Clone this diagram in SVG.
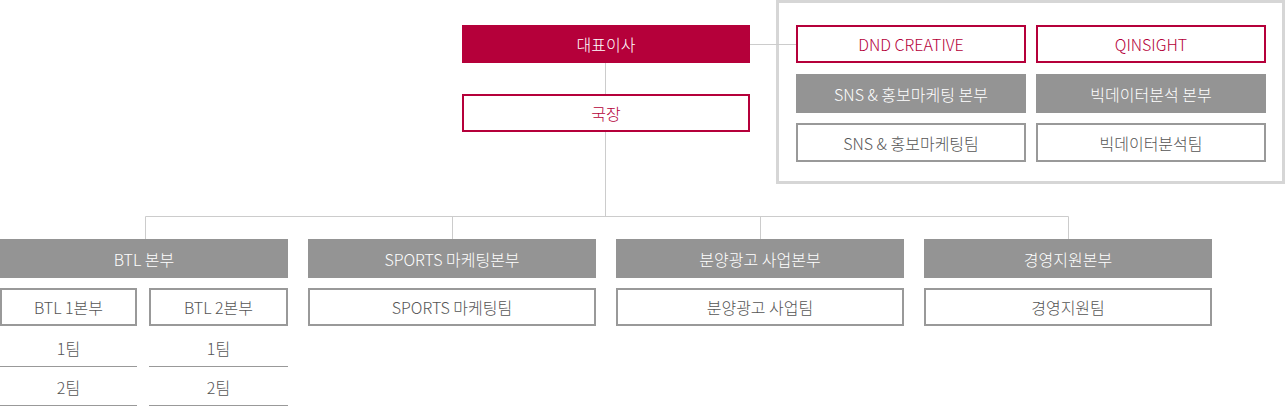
<svg xmlns="http://www.w3.org/2000/svg" width="1286" height="406" viewBox="0 0 1286 406">
<style>
text{font-family:"Noto Sans CJK KR","Noto Sans",sans-serif;font-size:16px;font-weight:300;text-anchor:middle;dominant-baseline:central}
.red{fill:#b5003a}
.redo{fill:#fff;stroke:#b5003a;stroke-width:2}
.gray{fill:#949494}
.grayo{fill:#fff;stroke:#999;stroke-width:2}
.tw{fill:#fff}
.tr{fill:#b5003a}
.tg{fill:#555}
.ln{stroke:#ccc;stroke-width:1;fill:none}
.ul{stroke:#999;stroke-width:1}
</style>
<rect x="777.5" y="1.5" width="506" height="181" fill="#fff" stroke="#d6d6d6" stroke-width="3"/>
<g id="connectors">
<path class="ln" d="M750 44.5H797M605.5 63V95M605.5 132V216.5M145.5 216.5H1068.5M145.5 216.5V239M452.5 216.5V239M760.5 216.5V239M1068.5 216.5V239"/>
</g>
<g id="ceo"><rect class="red" x="462" y="25" width="288" height="38"/><text class="tw" x="606" y="44">대표이사</text></g>
<g id="director"><rect class="redo" x="463" y="95" width="286" height="36"/><text class="tr" x="606" y="113">국장</text></g>
<g id="dnd"><rect class="redo" x="797" y="26" width="228" height="36"/><text class="tr" x="911" y="44">DND CREATIVE</text></g>
<g id="qinsight"><rect class="redo" x="1037" y="26" width="228" height="36"/><text class="tr" x="1151" y="44">QINSIGHT</text></g>
<g id="sns-div"><rect class="gray" x="796" y="74" width="230" height="39"/><text class="tw" x="911" y="94">SNS &amp; 홍보마케팅 본부</text></g>
<g id="bigdata-div"><rect class="gray" x="1036" y="74" width="230" height="39"/><text class="tw" x="1151" y="94">빅데이터분석 본부</text></g>
<g id="sns-team"><rect class="grayo" x="797" y="124" width="228" height="37"/><text class="tg" x="911" y="143">SNS &amp; 홍보마케팅팀</text></g>
<g id="bigdata-team"><rect class="grayo" x="1037" y="124" width="228" height="37"/><text class="tg" x="1151" y="143">빅데이터분석팀</text></g>
<g id="btl"><rect class="gray" x="0" y="239" width="288" height="39"/><text class="tw" x="144" y="259">BTL 본부</text></g>
<g id="sports"><rect class="gray" x="308" y="239" width="288" height="39"/><text class="tw" x="452" y="259">SPORTS 마케팅본부</text></g>
<g id="bunyang"><rect class="gray" x="616" y="239" width="288" height="39"/><text class="tw" x="760" y="259">분양광고 사업본부</text></g>
<g id="management"><rect class="gray" x="924" y="239" width="288" height="39"/><text class="tw" x="1068" y="259">경영지원본부</text></g>
<g id="btl1"><rect class="grayo" x="1" y="289" width="135" height="36"/><text class="tg" x="68.5" y="307">BTL 1본부</text></g>
<g id="btl2"><rect class="grayo" x="150" y="289" width="137" height="36"/><text class="tg" x="218.5" y="307">BTL 2본부</text></g>
<g id="sports-team"><rect class="grayo" x="309" y="289" width="286" height="36"/><text class="tg" x="452" y="307">SPORTS 마케팅팀</text></g>
<g id="bunyang-team"><rect class="grayo" x="617" y="289" width="286" height="36"/><text class="tg" x="760" y="307">분양광고 사업팀</text></g>
<g id="management-team"><rect class="grayo" x="925" y="289" width="286" height="36"/><text class="tg" x="1068" y="307">경영지원팀</text></g>
<g id="btl1-team1"><text class="tg" x="68.5" y="348">1팀</text><line class="ul" x1="0" y1="366.5" x2="137" y2="366.5"/></g>
<g id="btl1-team2"><text class="tg" x="68.5" y="387">2팀</text><line class="ul" x1="0" y1="405.5" x2="137" y2="405.5"/></g>
<g id="btl2-team1"><text class="tg" x="218.5" y="348">1팀</text><line class="ul" x1="149" y1="366.5" x2="288" y2="366.5"/></g>
<g id="btl2-team2"><text class="tg" x="218.5" y="387">2팀</text><line class="ul" x1="149" y1="405.5" x2="288" y2="405.5"/></g>
</svg>
